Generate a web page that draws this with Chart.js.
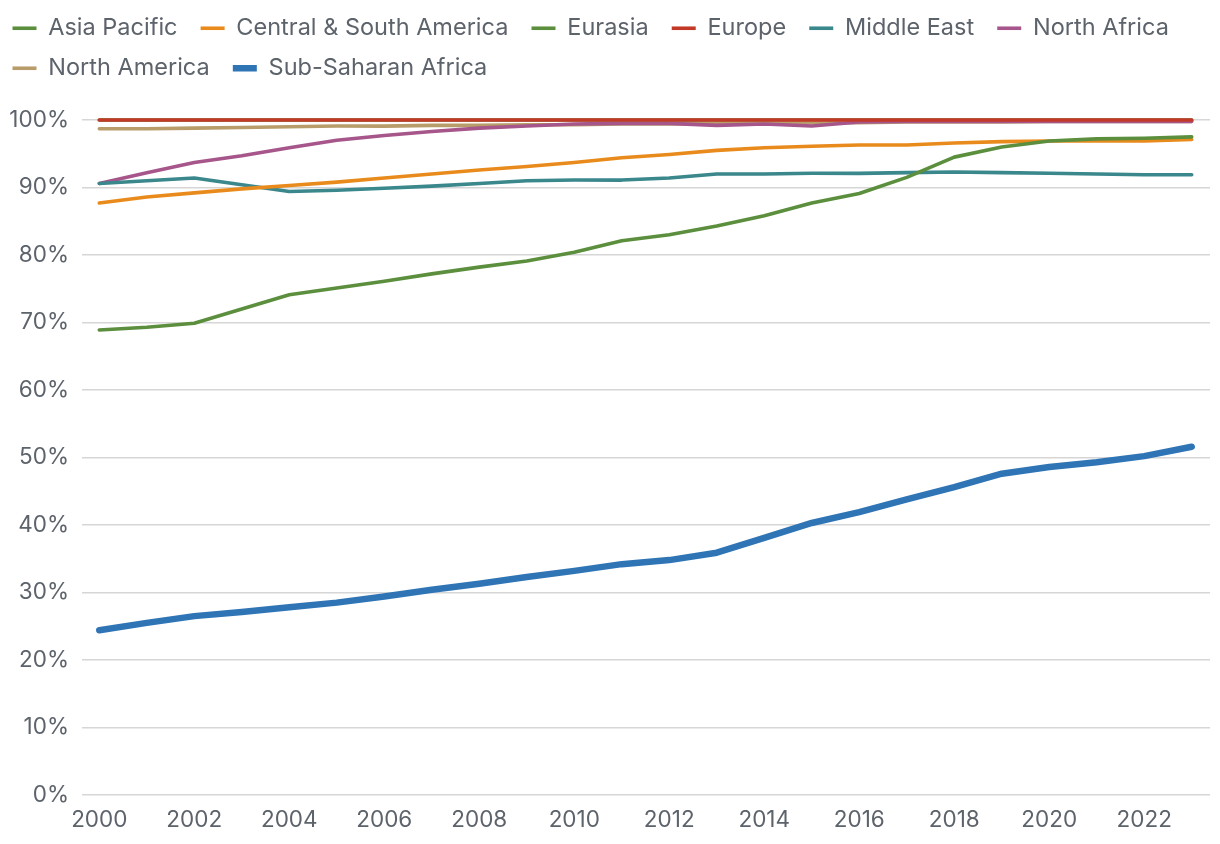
<!DOCTYPE html>
<html>
<head>
<meta charset="utf-8">
<script src="https://cdn.jsdelivr.net/npm/chart.js@4"></script>
<style>
  html, body { margin: 0; padding: 0; background: #fff; }
  #wrap { width: 1220px; height: 844px; }
</style>
</head>
<body>
<div id="wrap"><canvas id="accessChart"></canvas></div>
<script>
/* ── DATA ── */
const years = [2000, 2001, 2002, 2003, 2004, 2005, 2006, 2007, 2008, 2009, 2010, 2011,
               2012, 2013, 2014, 2015, 2016, 2017, 2018, 2019, 2020, 2021, 2022, 2023];
const xTicks = [2000, 2002, 2004, 2006, 2008, 2010, 2012, 2014, 2016, 2018, 2020, 2022];
const yTicks = [0, 10, 20, 30, 40, 50, 60, 70, 80, 90, 100];

const asiaPacific   = [68.9, 69.3, 69.9, 72.0, 74.1, 75.1, 76.1, 77.2, 78.2, 79.1, 80.4, 82.1,
                       83.0, 84.3, 85.8, 87.7, 89.1, 91.5, 94.5, 96.0, 96.9, 97.2, 97.3, 97.5];
const centralSouth  = [87.7, 88.6, 89.2, 89.8, 90.3, 90.8, 91.4, 92.0, 92.6, 93.1, 93.7, 94.4,
                       94.9, 95.5, 95.9, 96.1, 96.3, 96.3, 96.6, 96.8, 96.9, 96.9, 96.9, 97.1];
const eurasia       = [100, 100, 100, 100, 100, 100, 100, 100, 100, 100, 100, 100,
                       100, 100, 100, 100, 100, 100, 100, 100, 100, 100, 100, 100];
const europe        = [100, 100, 100, 100, 100, 100, 100, 100, 100, 100, 100, 100,
                       100, 100, 100, 100, 100, 100, 100, 100, 100, 100, 100, 100];
const middleEast    = [90.6, 91.0, 91.4, 90.4, 89.4, 89.6, 89.9, 90.2, 90.6, 91.0, 91.1, 91.1,
                       91.4, 92.0, 92.0, 92.1, 92.1, 92.2, 92.3, 92.2, 92.1, 92.0, 91.9, 91.9];
const northAfrica   = [90.6, 92.2, 93.7, 94.7, 95.9, 97.0, 97.7, 98.3, 98.8, 99.1, 99.4, 99.5,
                       99.5, 99.2, 99.4, 99.1, 99.7, 99.8, 99.8, 99.8, 99.8, 99.8, 99.8, 99.8];
const northAmerica  = [98.7, 98.7, 98.8, 98.9, 99.0, 99.1, 99.1, 99.2, 99.2, 99.3, 99.3, 99.4,
                       99.4, 99.5, 99.5, 99.6, 99.6, 99.7, 99.7, 99.7, 99.8, 99.8, 99.8, 99.8];
const subSaharan    = [24.4, 25.5, 26.5, 27.1, 27.8, 28.5, 29.4, 30.4, 31.3, 32.3, 33.2, 34.2,
                       34.8, 35.9, 38.1, 40.3, 41.9, 43.8, 45.6, 47.6, 48.6, 49.3, 50.2, 51.6];

const TEXT = "#5d636b";
const FONT = "Inter";

/* ── HELPERS ── */
const pts = arr => arr.map((v, i) => ({ x: years[i], y: v }));
const series = (label, data, color, width, order) => ({
    label, data: pts(data), borderColor: color, backgroundColor: color,
    borderWidth: width || 3.6, pointRadius: 0, tension: 0, clip: false,
    borderCapStyle: "round", borderJoinStyle: "round", order: order || 0
});

// legend a bit further left + fixed height so plot top lands where it should
const layoutTweak = {
    id: "layoutTweak",
    beforeInit(chart) {
        const fit = chart.legend.fit;
        chart.legend.fit = function () { fit.call(this); this.height = 120; };
    },
    afterLayout(chart) {
        chart.legend.left -= 4;
        chart.legend.right -= 4;
    }
};

/* ── CHART ── */
new Chart(document.getElementById("accessChart"), {
    type: "line",
    data: {
        datasets: [
            series("Asia Pacific", asiaPacific, "#5b8f3d"),
            series("Central & South America", centralSouth, "#e98b1c"),
            series("Eurasia", eurasia, "#5b8f3d", 3.6, 1),
            series("Europe", europe, "#c23a27"),
            series("Middle East", middleEast, "#3a878c"),
            series("North Africa", northAfrica, "#a6568a"),
            series("North America", northAmerica, "#b89d6b"),
            series("Sub-Saharan Africa", subSaharan, "#2f74b5", 6.5)
        ]
    },
    options: {
        responsive: true,
        maintainAspectRatio: false,
        animation: false,
        layout: { padding: { left: 0, right: 10, top: 0, bottom: 0 } },
        plugins: {
            tooltip: { enabled: false },
            legend: {
                position: "top",
                align: "start",
                labels: {
                    usePointStyle: true,
                    pointStyle: "line",
                    pointStyleWidth: 24,
                    padding: 16.5,
                    color: TEXT,
                    font: { family: FONT, size: 23.5 },
                    // trailing space widens the gap between items without growing the rows
                    generateLabels: chart => Chart.defaults.plugins.legend.labels.generateLabels(chart)
                        .map(item => ({ ...item, text: item.text + " " })),
                    sort: (a, b) => a.datasetIndex - b.datasetIndex
                }
            }
        },
        scales: {
            x: {
                type: "linear",
                min: 1999.636,
                max: 2023.385,
                afterBuildTicks: s => { s.ticks = xTicks.map(v => ({ value: v })); },
                afterFit: s => { s.height = 49; },
                grid: { display: false, drawTicks: false },
                border: { display: false },
                ticks: {
                    color: TEXT, padding: 12, maxRotation: 0, autoSkip: false,
                    font: { family: FONT, size: 22.5 },
                    callback: v => String(v)
                }
            },
            y: {
                min: 0,
                max: 100,
                afterBuildTicks: s => { s.ticks = yTicks.map(v => ({ value: v })); },
                afterFit: s => { s.width = 82; },
                grid: { color: "#d6d6d6", lineWidth: 1.6, drawTicks: false },
                border: { display: false },
                ticks: {
                    color: TEXT, padding: 13,
                    font: { family: FONT, size: 22.5 },
                    callback: v => v + "%"
                }
            }
        }
    },
    plugins: [layoutTweak]
});
</script>
</body>
</html>
